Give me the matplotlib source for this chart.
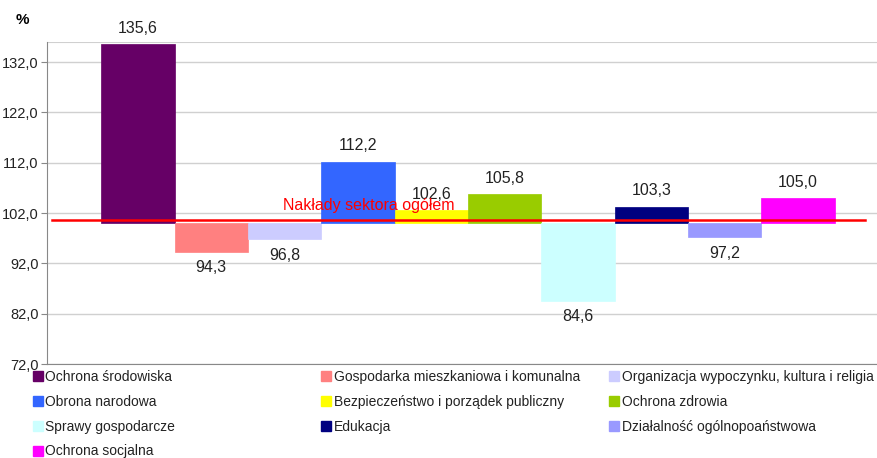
import matplotlib
matplotlib.use("Agg")
import matplotlib.pyplot as plt
from matplotlib.patches import Patch

categories = ["Ochrona środowiska", "Gospodarka mieszkaniowa i komunalna",
              "Organizacja wypoczynku, kultura i religia", "Obrona narodowa",
              "Bezpieczeństwo i porządek publiczny", "Ochrona zdrowia",
              "Sprawy gospodarcze", "Edukacja", "Działalność ogólnopoaństwowa",
              "Ochrona socjalna"]
values = [135.6, 94.3, 96.8, 112.2, 102.6, 105.8, 84.6, 103.3, 97.2, 105.0]
colors = ["#660066", "#FF8080", "#CCCCFF", "#3366FF", "#FFFF00", "#99CC00",
          "#CCFFFF", "#000080", "#9999FF", "#FF00FF"]
baseline = 100.0
total_level = 100.7
total_label = "Nakłady sektora ogółem"
yticks = [72, 82, 92, 102, 112, 122, 132]

plt.rcParams["font.family"] = ["Liberation Sans", "DejaVu Sans"]

fig = plt.figure(figsize=(8.78, 4.58), dpi=100)
ax = fig.add_axes([47/878, 1-364/458, 1-47/878, (364-42)/458])

x = list(range(len(values)))
heights = [v - baseline for v in values]
ax.bar(x, heights, bottom=baseline, width=1.0, color=colors, edgecolor=colors, linewidth=0.5, zorder=3)

for xi, v in zip(x, values):
    lab = f"{v:.1f}".replace(".", ",")
    if v >= baseline:
        ax.annotate(lab, (xi, v), xytext=(0, 6), textcoords="offset points",
                    ha="center", va="bottom", fontsize=11.5, color="#222222")
    else:
        ax.annotate(lab, (xi, v), xytext=(0, -6), textcoords="offset points",
                    ha="center", va="top", fontsize=11.5, color="#222222")

ax.plot([-1.17, 9.91], [total_level, total_level], color="#FF0000", lw=1.8, zorder=4)
ax.text(3.15, total_level + 1.3, total_label, color="#FF0000", fontsize=11.5,
        ha="center", va="bottom", zorder=5)

ax.set_xlim(-1.24, 10.09)
ax.set_ylim(72, 136)
ax.set_yticks(yticks)
ax.set_yticklabels([f"{t:.1f}".replace(".", ",") for t in yticks], fontsize=10.5, color="#222222")
ax.set_xticks([])
ax.grid(axis="y", color="#D0D0D0", lw=1.0, zorder=0)
ax.axhline(136, color="#D0D0D0", lw=1.5, zorder=0)
for s in ["top", "right"]:
    ax.spines[s].set_visible(False)
ax.spines["left"].set_color("#888888")
ax.spines["bottom"].set_color("#888888")
ax.tick_params(axis="y", length=4, color="#888888", pad=2)

fig.text(22/878, 1-20/458, "%", fontsize=11, fontweight="bold", ha="center", va="center")

handles = [Patch(facecolor=c, edgecolor=c) for c in colors]
col_x = [33/878, 321/878, 609/878]
for ci in range(3):
    idx = [i for i in range(len(values)) if i % 3 == ci]
    leg = fig.legend([handles[i] for i in idx], [categories[i] for i in idx],
                     loc="upper left", bbox_to_anchor=(col_x[ci], 1-370/458),
                     frameon=False, ncol=1, handlelength=0.75, handleheight=0.75,
                     handletextpad=0.15, labelspacing=0.78, borderpad=0, borderaxespad=0,
                     prop={"size": 10})
    for t in leg.get_texts():
        t.set_color("#222222")

fig.savefig("out.png", dpi=100)
